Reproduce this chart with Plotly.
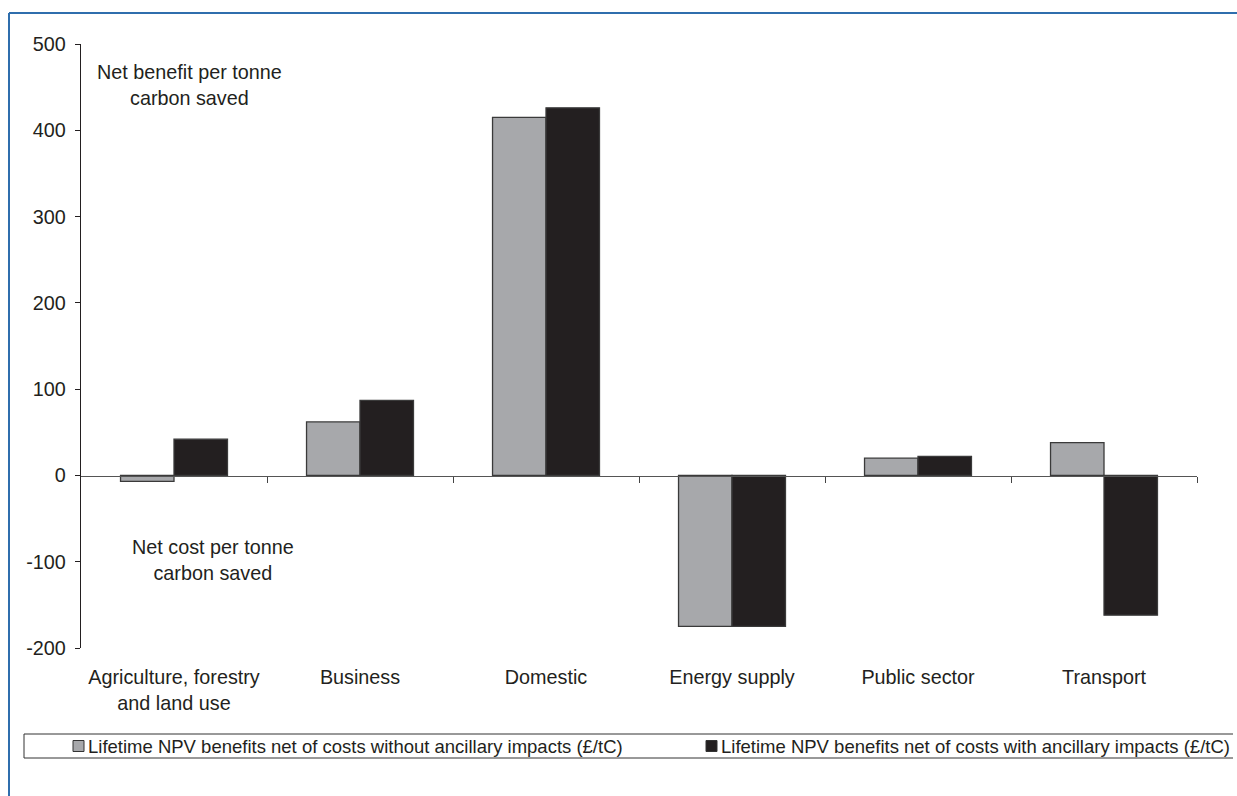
import plotly.graph_objects as go

# Sector categories and lifetime NPV values (£/tC)
sectors = [
    "Agriculture, forestry<br>and land use",
    "Business",
    "Domestic",
    "Energy supply",
    "Public sector",
    "Transport",
]
without_ancillary = [-7, 62, 415, -175, 20, 38]
with_ancillary = [42, 87, 426, -175, 22, -162]
series_names = [
    "Lifetime NPV benefits net of costs without ancillary impacts (£/tC)",
    "Lifetime NPV benefits net of costs with ancillary impacts (£/tC)",
]
y_ticks = [-200, -100, 0, 100, 200, 300, 400, 500]
y_tick_text = ["-200", "-100", "0", "100", "200", "300", "400", "500"]

W, H = 1237, 796
L, R, T, B = 81, 40, 44, 148
PW, PH = W - L - R, H - T - B

GREY = "#a7a8ab"
BLACK = "#231f20"
TEXT = "#231f20"
FONT = "Liberation Sans, Arial, sans-serif"
FS = 19.8      # axis labels and notes
FS_LEG = 18.5  # legend strip


def px(x):
    return (x - L) / PW


def py(y):
    return (H - B - y) / PH


fig = go.Figure()
fig.add_trace(go.Bar(
    x=sectors, y=without_ancillary, name=series_names[0],
    marker=dict(color=GREY, line=dict(color="#3a3a3a", width=1.3)),
    showlegend=False,
))
fig.add_trace(go.Bar(
    x=sectors, y=with_ancillary, name=series_names[1],
    marker=dict(color=BLACK, line=dict(color="#3a3a3a", width=1.3)),
    showlegend=False,
))
# helper trace so the zero-line axis is drawn
fig.add_trace(go.Scatter(x=[0], y=[0], xaxis="x2", mode="none",
                         showlegend=False, hoverinfo="skip"))

shapes = []
annotations = []

# outer frame (top and left edges)
shapes.append(dict(type="line", xref="paper", yref="paper",
                   x0=px(9), x1=px(W + 5), y0=py(13), y1=py(13),
                   line=dict(color="#2f6ead", width=2)))
shapes.append(dict(type="line", xref="paper", yref="paper",
                   x0=px(9), x1=px(9), y0=py(13), y1=py(H + 5),
                   line=dict(color="#2f6ead", width=2)))

# legend box
LEG_TOP, LEG_BOT, LEG_L, LEG_R = 734, 758, 24, 1233
for yy in (LEG_TOP, LEG_BOT):
    shapes.append(dict(type="line", xref="paper", yref="paper",
                       x0=px(LEG_L), x1=px(LEG_R), y0=py(yy), y1=py(yy),
                       line=dict(color="#333333", width=1)))
shapes.append(dict(type="line", xref="paper", yref="paper",
                   x0=px(LEG_L), x1=px(LEG_L), y0=py(LEG_TOP), y1=py(LEG_BOT),
                   line=dict(color="#333333", width=1)))

leg_mid = (LEG_TOP + LEG_BOT) / 2
legend_items = [(73, GREY, series_names[0]), (706, BLACK, series_names[1])]
for x0, col, name in legend_items:
    shapes.append(dict(type="rect", xref="paper", yref="paper",
                       x0=px(x0), x1=px(x0 + 11),
                       y0=py(leg_mid - 5.5), y1=py(leg_mid + 5.5),
                       fillcolor=col, line=dict(color="#333333", width=1)))
    annotations.append(dict(text=name, xref="paper", yref="paper",
                            x=px(x0 + 13), y=py(leg_mid), xanchor="left",
                            yanchor="middle", showarrow=False,
                            font=dict(family=FONT, size=FS_LEG, color=TEXT)))

# region notes
annotations.append(dict(text="Net benefit per tonne<br>carbon saved",
                        xref="paper", yref="paper", x=px(189), y=py(85),
                        xanchor="center", yanchor="middle", showarrow=False,
                        font=dict(family=FONT, size=FS, color=TEXT)))
annotations.append(dict(text="Net cost per tonne<br>carbon saved",
                        xref="paper", yref="paper", x=px(213), y=py(560),
                        xanchor="center", yanchor="middle", showarrow=False,
                        font=dict(family=FONT, size=FS, color=TEXT)))

fig.update_layout(
    width=W, height=H,
    margin=dict(l=L, r=R, t=T, b=B),
    paper_bgcolor="white", plot_bgcolor="white",
    barmode="group", bargap=0.425, bargroupgap=0,
    font=dict(family=FONT, size=FS, color=TEXT),
    xaxis=dict(
        type="category", showline=False, ticks="", showgrid=False,
        zeroline=False, ticklabelstandoff=15,
        tickfont=dict(family=FONT, size=FS, color=TEXT),
        range=[-0.5, 5.5],
    ),
    xaxis2=dict(
        overlaying="x", anchor="free", position=py(476),
        range=[-0.5, 5.5], showline=True, linecolor="#555555", linewidth=1.3,
        ticks="outside", ticklen=6, tickcolor="#444444", tickwidth=1.2,
        tickvals=[0.5, 1.5, 2.5, 3.5, 4.5, 5.5], showticklabels=False,
        showgrid=False, zeroline=False,
    ),
    yaxis=dict(
        range=[-200, 500], tickvals=y_ticks, ticktext=y_tick_text,
        showline=True, linecolor=TEXT, linewidth=1.3, ticks="outside",
        ticklen=5, tickcolor=TEXT, tickwidth=1.2, showgrid=False,
        zeroline=False, ticklabelstandoff=5,
        tickfont=dict(family=FONT, size=FS, color=TEXT),
    ),
    shapes=shapes,
    annotations=annotations,
)

fig.write_html("out.html")
